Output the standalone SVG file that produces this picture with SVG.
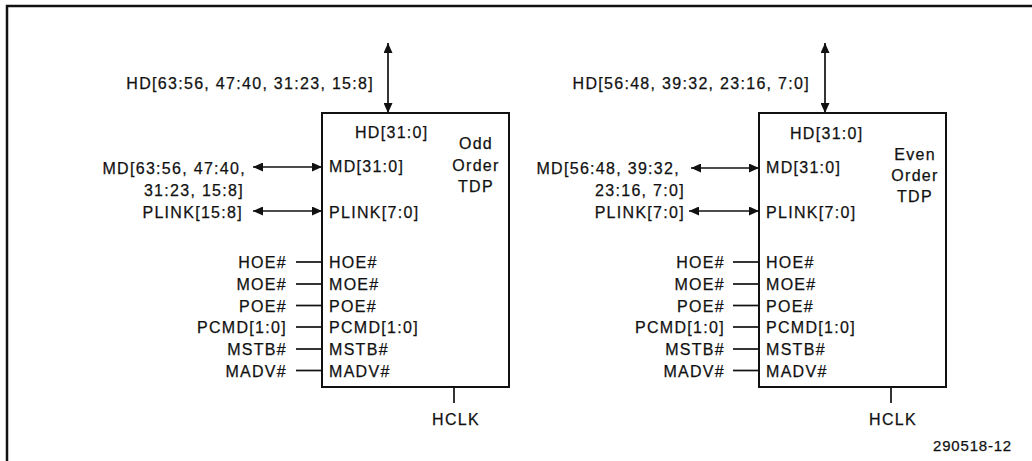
<svg xmlns="http://www.w3.org/2000/svg" width="1032" height="461" viewBox="0 0 1032 461">
<style>
text{font-family:"Liberation Sans",Arial,sans-serif;font-size:16px;letter-spacing:1.3px;fill:#111;stroke:#111;stroke-width:0.25}
.e{text-anchor:end}
.m{text-anchor:middle}
.box{fill:#fff;stroke:#111;stroke-width:2}
.w{stroke:#111;stroke-width:1.7;fill:none}
.frame{stroke:#111;stroke-width:2.5;fill:none}
</style>
<defs>
<marker id="ah" viewBox="0 0 10 10" refX="10" refY="5" markerWidth="10" markerHeight="9" markerUnits="userSpaceOnUse" orient="auto-start-reverse" preserveAspectRatio="none">
<path d="M0,0 L10,5 L0,10 z" fill="#111"/>
</marker>
</defs>
<rect width="1032" height="461" fill="#fff"/>
<path class="frame" d="M7,461 V6 H1032"/>

<g id="odd-tdp">
<rect class="box" x="322" y="113" width="187" height="274"/>
<text x="355" y="138">HD[31:0]</text>
<text x="329" y="172">MD[31:0]</text>
<text x="329" y="218">PLINK[7:0]</text>
<text class="m" x="476" y="149">Odd</text>
<text class="m" x="476" y="171">Order</text>
<text class="m" x="476" y="192">TDP</text>
<text x="329" y="268">HOE#</text>
<text x="329" y="290">MOE#</text>
<text x="329" y="311.5">POE#</text>
<text x="329" y="333">PCMD[1:0]</text>
<text x="329" y="355">MSTB#</text>
<text x="329" y="376.5">MADV#</text>
</g>

<g id="even-tdp">
<rect class="box" x="759" y="113" width="187" height="274"/>
<text x="790" y="139">HD[31:0]</text>
<text x="766" y="173">MD[31:0]</text>
<text x="766" y="218">PLINK[7:0]</text>
<text class="m" x="915" y="160">Even</text>
<text class="m" x="915" y="181">Order</text>
<text class="m" x="915" y="202">TDP</text>
<text x="766" y="268">HOE#</text>
<text x="766" y="290">MOE#</text>
<text x="766" y="311.5">POE#</text>
<text x="766" y="333">PCMD[1:0]</text>
<text x="766" y="355">MSTB#</text>
<text x="766" y="376.5">MADV#</text>
</g>

<g id="connectors">
<line class="w" x1="388" y1="43" x2="388" y2="113" marker-start="url(#ah)" marker-end="url(#ah)"/>
<line class="w" x1="253" y1="167" x2="322" y2="167" marker-start="url(#ah)" marker-end="url(#ah)"/>
<line class="w" x1="253" y1="211" x2="322" y2="211" marker-start="url(#ah)" marker-end="url(#ah)"/>
<line class="w" x1="296" y1="262" x2="322" y2="262"/>
<line class="w" x1="296" y1="284" x2="322" y2="284"/>
<line class="w" x1="296" y1="305.5" x2="322" y2="305.5"/>
<line class="w" x1="296" y1="327" x2="322" y2="327"/>
<line class="w" x1="296" y1="349" x2="322" y2="349"/>
<line class="w" x1="296" y1="370.5" x2="322" y2="370.5"/>
<line class="w" x1="454" y1="387" x2="454" y2="403"/>

<line class="w" x1="825" y1="43" x2="825" y2="113" marker-start="url(#ah)" marker-end="url(#ah)"/>
<line class="w" x1="691" y1="168" x2="759" y2="168" marker-start="url(#ah)" marker-end="url(#ah)"/>
<line class="w" x1="689" y1="211" x2="759" y2="211" marker-start="url(#ah)" marker-end="url(#ah)"/>
<line class="w" x1="733" y1="262" x2="759" y2="262"/>
<line class="w" x1="733" y1="284" x2="759" y2="284"/>
<line class="w" x1="733" y1="305.5" x2="759" y2="305.5"/>
<line class="w" x1="733" y1="327" x2="759" y2="327"/>
<line class="w" x1="733" y1="349" x2="759" y2="349"/>
<line class="w" x1="733" y1="370.5" x2="759" y2="370.5"/>
<line class="w" x1="891" y1="387" x2="891" y2="403"/>
</g>

<g id="labels">
<text class="e" x="374" y="89">HD[63:56, 47:40, 31:23, 15:8]</text>
<text class="e" x="246" y="174">MD[63:56, 47:40,</text>
<text class="e" x="244" y="196">31:23, 15:8]</text>
<text class="e" x="243" y="218">PLINK[15:8]</text>
<text class="e" x="287" y="268">HOE#</text>
<text class="e" x="287" y="290">MOE#</text>
<text class="e" x="287" y="311.5">POE#</text>
<text class="e" x="287" y="333">PCMD[1:0]</text>
<text class="e" x="287" y="355">MSTB#</text>
<text class="e" x="287" y="376.5">MADV#</text>
<text class="m" x="456" y="425">HCLK</text>

<text class="e" x="810" y="89">HD[56:48, 39:32, 23:16, 7:0]</text>
<text class="e" x="680" y="174">MD[56:48, 39:32,</text>
<text class="e" x="685" y="196">23:16, 7:0]</text>
<text class="e" x="685" y="218">PLINK[7:0]</text>
<text class="e" x="725" y="268">HOE#</text>
<text class="e" x="725" y="290">MOE#</text>
<text class="e" x="725" y="311.5">POE#</text>
<text class="e" x="725" y="333">PCMD[1:0]</text>
<text class="e" x="725" y="355">MSTB#</text>
<text class="e" x="725" y="376.5">MADV#</text>
<text class="m" x="893" y="425">HCLK</text>

<text class="e" x="1012" y="451" style="font-size:15px;letter-spacing:0.8px">290518-12</text>
</g>
</svg>
